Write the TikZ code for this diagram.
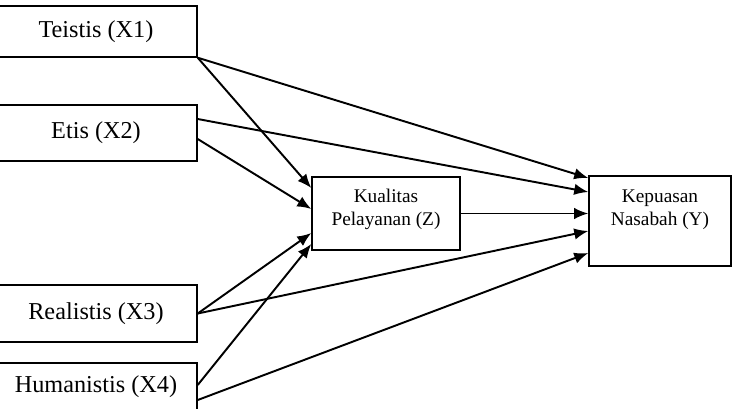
\documentclass[tikz,border=0pt]{standalone}
\usepackage{fontspec}
\setmainfont{Liberation Serif}
\usetikzlibrary{arrows.meta}

\begin{document}
\begin{tikzpicture}[
        var/.style={draw, line width=0.8pt, minimum width=4.04cm, font=\fontsize{13.8}{16}\selectfont},
        med/.style={draw, line width=0.8pt, align=center, font=\fontsize{11}{13}\selectfont},
        path/.style={line width=1.1pt, -{Latex[length=8pt,width=6.5pt]}}
    ]
                        \useasboundingbox (0, 0) rectangle (14.68, -8.16);
                        \node[var, minimum height=1.02cm] (x1) at (1.92, -0.63) {Teistis (X1)};
                        \node[var, minimum height=1.12cm] (x2) at (1.92, -2.66) {Etis (X2)};
                        \node[var, minimum height=1.14cm] (x3) at (1.92, -6.27) {Realistis (X3)};
                        \node[var, minimum height=0.96cm] (x4) at (1.92, -7.74) {Humanistis (X4)};
                        \node[med, minimum width=2.96cm, minimum height=1.46cm, text depth=6.7pt] (z) at (7.72, -4.27) {Kualitas\\Pelayanan (Z)};
                        \node[med, minimum width=2.84cm, minimum height=1.8cm, text depth=15.3pt] (y) at (13.2, -4.42) {Kepuasan\\Nasabah (Y)};

                        \draw
                        (x1.south east) edge[path] ([yshift=0.51cm]z.west)
                        (x1.south east) edge[path] ([yshift=0.86cm]y.west)
                        ([yshift=0.28cm]x2.east) edge[path] ([yshift=0.58cm]y.west)
                        ([yshift=-0.12cm]x2.east) edge[path] ([yshift=0.09cm]z.west)
                        (z.east) edge[path] (z.east -| y.west)
                        (x3.east) edge[path] ([yshift=-0.39cm]z.west)
                        (x3.east) edge[path] ([yshift=-0.2cm]y.west)
                        ([yshift=0.04cm]x4.east) edge[path] ([yshift=-0.61cm]z.west)
                        ([yshift=-0.26cm]x4.east) edge[path] ([yshift=-0.64cm]y.west);
                    \end{tikzpicture}
\end{document}
